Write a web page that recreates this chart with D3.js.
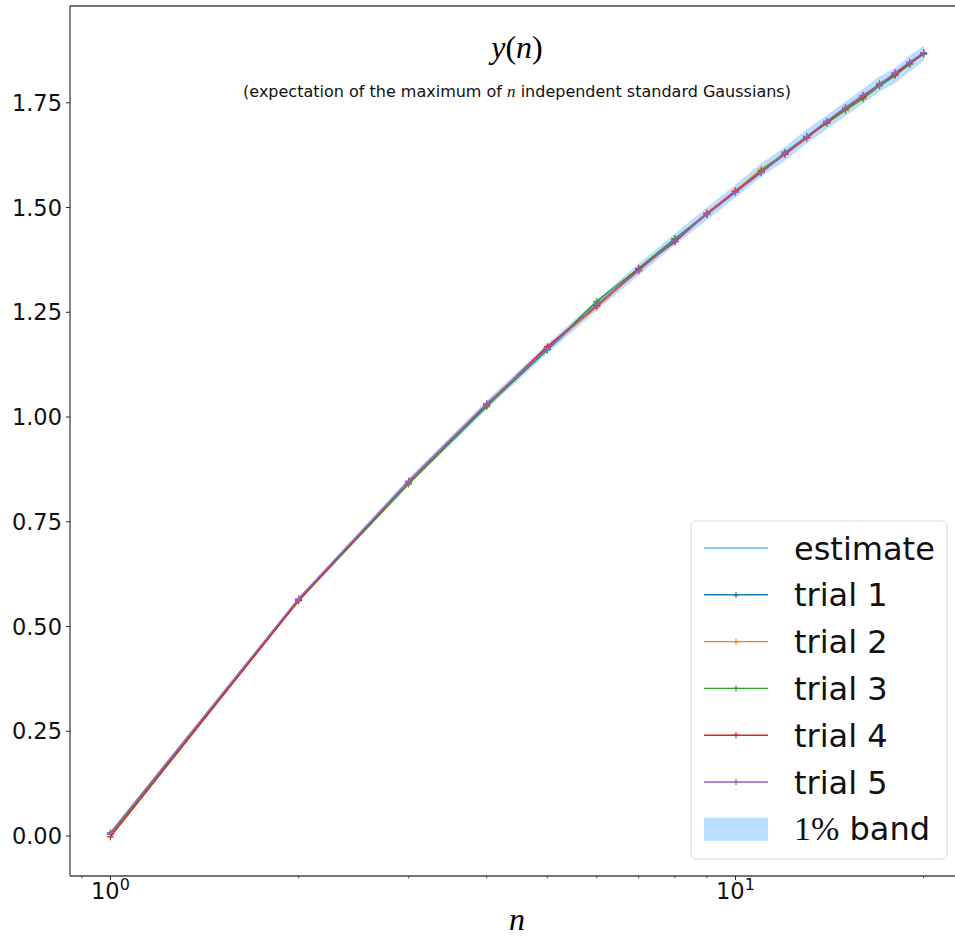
<!DOCTYPE html>
<html>
<head>
<meta charset="utf-8">
<script src="https://cdn.jsdelivr.net/npm/d3@7"></script>
<style>
  body { margin: 0; background: #fff; }
  text { font-family: "DejaVu Sans", sans-serif; }
  .math { font-family: "Liberation Serif", "DejaVu Serif", serif; }
</style>
</head>
<body>
<svg id="chart" width="955" height="938"></svg>
<script>
const nValues = [1, 2, 3, 4, 5, 6, 7, 8, 9, 10, 11, 12, 13, 14, 15, 16, 17, 18, 19, 20]

const estimate = [0.003, 0.564, 0.846, 1.029, 1.163, 1.267, 1.352, 1.424, 1.485, 1.539,
                  1.590, 1.628, 1.670, 1.703, 1.736, 1.766, 1.795, 1.815, 1.844, 1.868]

const trial1 = [0.005, 0.565, 0.845, 1.028, 1.160, 1.268, 1.350, 1.424, 1.486, 1.538,
                1.583, 1.632, 1.668, 1.705, 1.737, 1.767, 1.792, 1.819, 1.846, 1.866]
const trial2 = [0.006, 0.561, 0.843, 1.027, 1.165, 1.262, 1.350, 1.420, 1.487, 1.540,
                1.592, 1.628, 1.665, 1.703, 1.732, 1.762, 1.792, 1.821, 1.843, 1.869]
const trial3 = [0.004, 0.563, 0.840, 1.025, 1.162, 1.276, 1.355, 1.426, 1.484, 1.537,
                1.588, 1.630, 1.670, 1.701, 1.733, 1.760, 1.790, 1.815, 1.842, 1.867]
const trial4 = [-0.002, 0.562, 0.846, 1.030, 1.168, 1.266, 1.353, 1.418, 1.485, 1.539,
                1.585, 1.627, 1.667, 1.704, 1.738, 1.765, 1.795, 1.818, 1.845, 1.868]
const trial5 = [0.008, 0.566, 0.847, 1.032, 1.163, 1.268, 1.349, 1.422, 1.483, 1.536,
                1.584, 1.629, 1.669, 1.706, 1.739, 1.768, 1.793, 1.822, 1.847, 1.870]

const bandPct = 0.01
const trialNames = ['trial 1', 'trial 2', 'trial 3', 'trial 4', 'trial 5']
const trialColors = ['#1f77b4', '#ff7f0e', '#2ca02c', '#d62728', '#9467bd']
const yTicks = [0, 0.25, 0.5, 0.75, 1.0, 1.25, 1.5, 1.75]
const xMajor = [1, 10]
const xMinor = [0.9, 2, 3, 4, 5, 6, 7, 8, 9, 20]

const trials = [trial1, trial2, trial3, trial4, trial5]

const svg = d3.select('#chart')
const mLeft = 70, mRight = 964, mTop = 6, mBottom = 876

const x = d3.scaleLog().domain([0.8616, 23.21]).range([mLeft, mRight])
const y = d3.scaleLinear().domain([-0.0955, 1.981]).range([mBottom, mTop])

const plot = svg.append('g')

// 1% band
const bandArea = d3.area()
  .x((d, i) => x(nValues[i]))
  .y0(d => y(d * (1 - bandPct)))
  .y1(d => y(d * (1 + bandPct)))

plot.append('path')
  .attr('d', bandArea(estimate))
  .attr('fill', 'dodgerblue')
  .attr('fill-opacity', 0.3)

const line = d3.line().x((d, i) => x(nValues[i])).y(d => y(d))

// estimate line
plot.append('path')
  .attr('d', line(estimate))
  .attr('fill', 'none')
  .attr('stroke', 'dodgerblue')
  .attr('stroke-width', 1)

// trials
trials.forEach((t, k) => {
  const g = plot.append('g')
  g.append('path')
    .attr('d', line(t))
    .attr('fill', 'none')
    .attr('stroke', trialColors[k])
    .attr('stroke-width', 1.5)
  g.selectAll('path.mk')
    .data(t)
    .enter()
    .append('path')
    .attr('class', 'mk')
    .attr('d', (d, i) => {
      const cx = x(nValues[i]), cy = y(d), s = 3.5
      return `M${cx - s},${cy}H${cx + s}M${cx},${cy - s}V${cy + s}`
    })
    .attr('stroke', trialColors[k])
    .attr('stroke-width', 1.2)
})

// spines
svg.append('line').attr('x1', mLeft).attr('x2', mLeft).attr('y1', mTop).attr('y2', mBottom)
  .attr('stroke', '#444').attr('stroke-width', 1.3)
svg.append('line').attr('x1', mLeft).attr('x2', 955).attr('y1', mBottom).attr('y2', mBottom)
  .attr('stroke', '#444').attr('stroke-width', 1.3)
svg.append('line').attr('x1', mLeft).attr('x2', 955).attr('y1', mTop).attr('y2', mTop)
  .attr('stroke', '#444').attr('stroke-width', 1.3)

// y axis
const yAxis = svg.append('g')
yAxis.selectAll('line')
  .data(yTicks)
  .enter()
  .append('line')
  .attr('x1', mLeft - 4).attr('x2', mLeft)
  .attr('y1', d => y(d)).attr('y2', d => y(d))
  .attr('stroke', '#222').attr('stroke-width', 1)
yAxis.selectAll('text')
  .data(yTicks)
  .enter()
  .append('text')
  .attr('x', mLeft - 8)
  .attr('y', d => y(d))
  .attr('dy', '0.36em')
  .attr('text-anchor', 'end')
  .attr('font-size', 22.5)
  .attr('fill', '#111')
  .text(d => d3.format('.2f')(d))

// x axis
const xAxis = svg.append('g')
xAxis.selectAll('line.major')
  .data(xMajor)
  .enter()
  .append('line')
  .attr('class', 'major')
  .attr('x1', d => x(d)).attr('x2', d => x(d))
  .attr('y1', mBottom).attr('y2', mBottom + 4)
  .attr('stroke', '#222').attr('stroke-width', 1)
xAxis.selectAll('line.minor')
  .data(xMinor)
  .enter()
  .append('line')
  .attr('class', 'minor')
  .attr('x1', d => x(d)).attr('x2', d => x(d))
  .attr('y1', mBottom).attr('y2', mBottom + 2.5)
  .attr('stroke', '#333').attr('stroke-width', 0.8)
const xl = xAxis.selectAll('text')
  .data(xMajor)
  .enter()
  .append('text')
  .attr('x', d => x(d))
  .attr('y', 899)
  .attr('text-anchor', 'middle')
  .attr('font-size', 22.5)
  .attr('fill', '#111')
xl.append('tspan').text('10')
xl.append('tspan')
  .attr('font-size', 16)
  .attr('dy', -9)
  .text(d => Math.round(Math.log10(d)))

// axis label
svg.append('text')
  .attr('class', 'math')
  .attr('x', (mLeft + mRight) / 2)
  .attr('y', 930)
  .attr('text-anchor', 'middle')
  .attr('font-size', 32)
  .attr('font-style', 'italic')
  .text('n')

// title inside axes
const title = svg.append('text')
  .attr('class', 'math')
  .attr('x', (mLeft + mRight) / 2)
  .attr('y', 58)
  .attr('text-anchor', 'middle')
  .attr('font-size', 32)
title.append('tspan').attr('font-style', 'italic').text('y')
title.append('tspan').text('(')
title.append('tspan').attr('font-style', 'italic').text('n')
title.append('tspan').text(')')

const sub = svg.append('text')
  .attr('x', (mLeft + mRight) / 2)
  .attr('y', 97)
  .attr('text-anchor', 'middle')
  .attr('font-size', 16)
  .attr('fill', '#111')
sub.append('tspan').text('(expectation of the maximum of ')
sub.append('tspan').attr('class', 'math').attr('font-style', 'italic').attr('font-size', 17).text('n')
sub.append('tspan').text(' independent standard Gaussians)')

// legend
const legend = svg.append('g')
legend.append('rect')
  .attr('x', 691).attr('y', 521)
  .attr('width', 256).attr('height', 338)
  .attr('rx', 5)
  .attr('fill', '#fff').attr('fill-opacity', 0.85)
  .attr('stroke', '#d6d6d6').attr('stroke-width', 1)

const legendItems = [{ name: 'estimate', color: 'dodgerblue', kind: 'est' }]
  .concat(trialNames.map((nm, k) => ({ name: nm, color: trialColors[k], kind: 'trial' })))
  .concat([{ name: 'band', color: 'dodgerblue', kind: 'band' }])

const rowY = i => 548 + i * 46.8

legendItems.forEach((it, i) => {
  const cy = rowY(i)
  if (it.kind === 'band') {
    legend.append('rect')
      .attr('x', 704).attr('y', cy - 11)
      .attr('width', 64).attr('height', 23)
      .attr('fill', it.color).attr('fill-opacity', 0.3)
    const t = legend.append('text')
      .attr('x', 794).attr('y', cy).attr('dy', '0.36em')
      .attr('font-size', 32).attr('fill', '#111')
    t.append('tspan').attr('class', 'math').attr('font-size', 34).text('1%')
    t.append('tspan').text(' band')
  } else {
    legend.append('line')
      .attr('x1', 704).attr('x2', 768)
      .attr('y1', cy).attr('y2', cy)
      .attr('stroke', it.color)
      .attr('stroke-width', it.kind === 'est' ? 1 : 1.4)
    if (it.kind === 'trial') {
      legend.append('path')
        .attr('d', `M736,${cy - 3}V${cy + 3}M733,${cy}H739`)
        .attr('stroke', it.color).attr('stroke-width', 1.2)
    }
    legend.append('text')
      .attr('x', 794).attr('y', cy).attr('dy', '0.36em')
      .attr('font-size', 32).attr('fill', '#111')
      .text(it.name)
  }
})
</script>
</body>
</html>
